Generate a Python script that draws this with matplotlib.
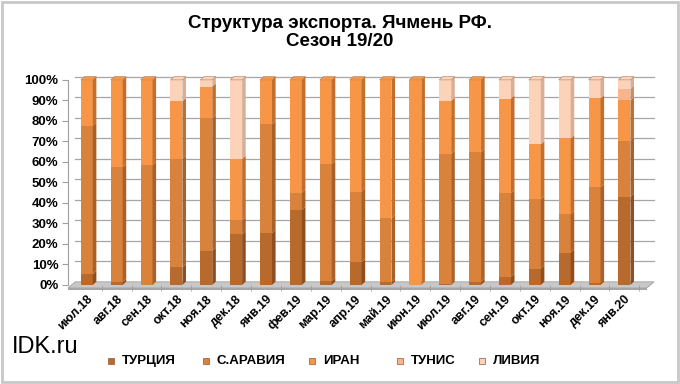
import numpy as np
import matplotlib.pyplot as plt
from matplotlib.patches import Rectangle, Polygon

plt.rcParams['font.family'] = ['Liberation Sans', 'DejaVu Sans']

months = ["июл.18", "авг.18", "сен.18", "окт.18", "ноя.18", "дек.18", "янв.19",
          "фев.19", "мар.19", "апр.19", "май.19", "июн.19", "июл.19", "авг.19",
          "сен.19", "окт.19", "ноя.19", "дек.19", "янв.20"]
turkey = [5.2, 1.3, 0, 8.6, 16.6, 24.7, 25.2, 36.6, 2, 11, 1.3, 0, 0.5, 1.6, 4, 8, 15.8, 1, 43]
s_arabia = [72.5, 56.1, 58.5, 52.9, 64.7, 7.0, 53.2, 8.4, 57, 34.5, 31.2, 0, 63.4, 63.1, 40.7, 33.8, 18.8, 46.6, 27.4]
iran = [22.3, 42.6, 41.5, 28.1, 15.4, 29.8, 21.6, 55, 41, 54.5, 67.5, 100, 25.9, 35.3, 46.2, 26.7, 36.9, 43.4, 19.6]
tunis = [0, 0, 0, 0, 0, 0, 0, 0, 0, 0, 0, 0, 0, 0, 0, 0, 0, 0, 5.6]
libya = [0, 0, 0, 10.4, 3.3, 38.5, 0, 0, 0, 0, 0, 0, 10.2, 0, 9.1, 31.5, 28.5, 9, 4.4]

names = ["ТУРЦИЯ", "С.АРАВИЯ", "ИРАН", "ТУНИС", "ЛИВИЯ"]
colors = ["#B8692C", "#D9823B", "#F79646", "#F8B48C", "#FCD2B8"]
sides = ["#8E4E1E", "#A8612A", "#C06F30", "#CC8E6C", "#D9AE96"]

fig = plt.figure(figsize=(6.8, 3.84), dpi=100)
ax = fig.add_axes([0.1, 0.258, 0.86, 0.534])

x = np.arange(len(months))
w = 0.4
dx, dy = 0.12, 1.6
xl, xr = -0.63, 18.75

# floor
ax.add_patch(Polygon([(xl, -1.5), (xl + dx * 2, 1.5), (xr + dx * 2, 1.5), (xr, -1.5)],
                     closed=True, facecolor="#C8C8C8", edgecolor="#A0A0A0", lw=0.6,
                     clip_on=False, zorder=1))
ax.add_patch(Polygon([(xl, -1.5), (xr, -1.5), (xr, -2.6), (xl, -2.6)], closed=True,
                     facecolor="#A6A6A6", edgecolor="none", clip_on=False, zorder=1))

for yv in range(10, 101, 10):
    ax.plot([xl + dx * 2, xr + dx * 2], [yv + 1.5, yv + 1.5], color="#A6A6A6", lw=0.9,
            zorder=0.5, clip_on=False)

series = [turkey, s_arabia, iran, tunis, libya]
bottom = np.zeros(len(months))
for vals, c, sc in zip(series, colors, sides):
    vals = np.array(vals, dtype=float)
    ax.bar(x, vals, w, bottom=bottom, color=c, edgecolor="none", zorder=3)
    for xi, b, v in zip(x, bottom, vals):
        if v <= 0:
            continue
        r = xi + w / 2
        ax.add_patch(Polygon([(r, b), (r + dx, b + dy), (r + dx, b + v + dy), (r, b + v)],
                             closed=True, facecolor=sc, edgecolor="none", zorder=3,
                             clip_on=False))
    bottom = bottom + vals

# top caps
for xi, tot in zip(x, bottom):
    top_c = [c for vals, c in zip(series, colors) if vals[xi] > 0][-1]
    ax.add_patch(Polygon([(xi - w / 2, tot), (xi - w / 2 + dx, tot + dy),
                          (xi + w / 2 + dx, tot + dy), (xi + w / 2, tot)],
                         closed=True, facecolor=top_c, edgecolor="#B08060", lw=0.4,
                         zorder=4, clip_on=False))

ax.set_xlim(xl, 18.95)
ax.set_ylim(0, 100)
ax.set_yticks(range(0, 101, 10))
ax.set_yticklabels([f"{v}%" for v in range(0, 101, 10)], fontsize=9.5, fontweight="bold")
ax.set_xticks(x)
ax.set_xticklabels(months, rotation=45, ha="right", va="top", rotation_mode="anchor",
                   fontsize=9, fontweight="bold")
ax.tick_params(axis="x", length=0, pad=6)
ax.tick_params(axis="y", length=4, color="#A0A0A0", pad=3)
ax.set_xticks(x + 0.5, minor=True)
ax.tick_params(axis="x", which="minor", length=4, color="#A0A0A0")
for s in ["top", "right", "bottom"]:
    ax.spines[s].set_visible(False)
ax.spines["left"].set_color("#A0A0A0")

fig.text(0.5, 0.962, "Структура экспорта. Ячмень РФ.\nСезон 19/20", ha="center", va="top",
         fontsize=13.5, fontweight="bold", linespacing=1.12)

fig.text(0.018, 0.08, "IDK.ru", fontsize=17, ha="left", va="baseline")

leg_x = [0.163, 0.303, 0.459, 0.588, 0.709]
for lx, n, c in zip(leg_x, names, colors):
    fig.add_artist(Rectangle((lx - 0.0045, 0.051), 0.009, 0.016, transform=fig.transFigure,
                             facecolor=c, edgecolor="#8E5A3A", lw=0.5))
    fig.text(lx + 0.016, 0.059, n, fontsize=9.5, fontweight="bold", ha="left", va="center")

fig.add_artist(Rectangle((0.003, 0.004), 0.994, 0.99, transform=fig.transFigure,
                         facecolor="none", edgecolor="#C8C8C8", lw=2))

fig.savefig("out.png", dpi=100)
